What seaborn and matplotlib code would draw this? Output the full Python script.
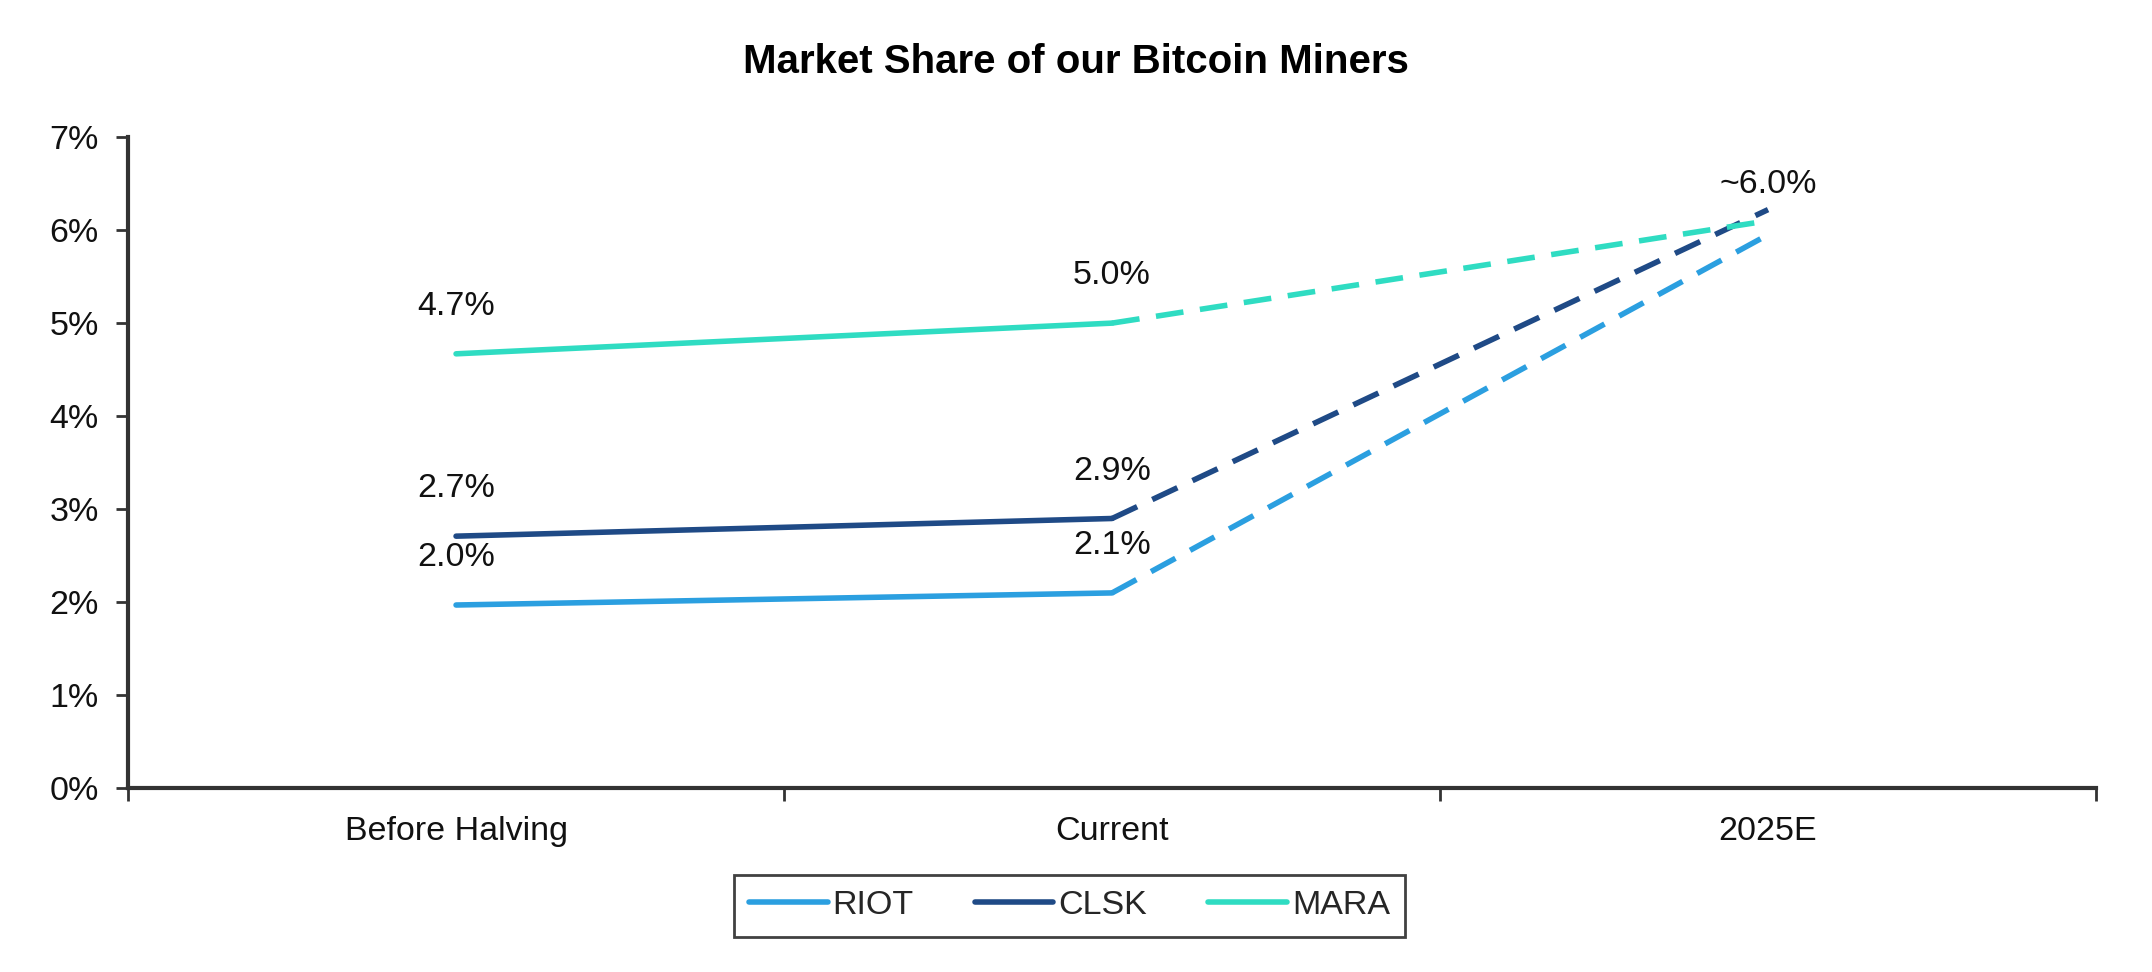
import pandas as pd
import numpy as np
import seaborn as sns
import matplotlib.pyplot as plt
from matplotlib.lines import Line2D

# Chart data
periods = ["Before Halving", "Current", "2025E"]
companies = ["RIOT", "CLSK", "MARA"]
riot = [1.97, 2.1, 5.95]
clsk = [2.71, 2.9, 6.22]
mara = [4.67, 5.0, 6.1]
labels_before = ["2.0%", "2.7%", "4.7%"]
labels_current = ["2.1%", "2.9%", "5.0%"]
label_2025 = "~6.0%"

colors = {"RIOT": "#2b9fe0", "CLSK": "#1f4a86", "MARA": "#2fdcc2"}

# long-form table: solid segment for actual values, dashed for the estimate
rows = []
for name, vals in zip(companies, [riot, clsk, mara]):
    for i in [0, 1]:
        rows.append({"company": name, "x": i, "share": vals[i], "segment": "actual"})
    for i in [1, 2]:
        rows.append({"company": name, "x": i, "share": vals[i], "segment": "forecast"})
df = pd.DataFrame(rows)

sns.set_theme(style="white")
plt.rcParams["font.family"] = ["Liberation Sans", "DejaVu Sans"]

fs = 24.5
fig = plt.figure(figsize=(21.52, 9.72), dpi=100)
ax = fig.add_axes([0.0595, 0.189, 0.9145, 0.67])

sns.lineplot(data=df, x="x", y="share", hue="company", style="segment",
             hue_order=companies, palette=colors,
             dashes={"actual": "", "forecast": (5, 3)},
             linewidth=4, legend=False, ax=ax, estimator=None)

ax.set_xlim(-0.5, 2.5)
ax.set_ylim(0, 7)
ax.set_yticks(range(0, 8))
ax.set_yticklabels([f"{v}%" for v in range(0, 8)])
ax.set_xticks(range(len(periods)))
ax.set_xticklabels(periods)
ax.set_xticks([-0.5, 0.5, 1.5, 2.5], minor=True)
ax.tick_params(axis="x", which="major", length=0, pad=20, labelsize=fs, colors="#111111")
ax.tick_params(axis="x", which="minor", length=9, width=2, direction="out", color="#333333", bottom=True)
ax.tick_params(axis="y", length=9, width=2, direction="out", pad=12, labelsize=fs,
               color="#333333", labelcolor="#111111", left=True)
ax.set_xlabel("")
ax.set_ylabel("")

for side in ["top", "right"]:
    ax.spines[side].set_visible(False)
for side in ["left", "bottom"]:
    ax.spines[side].set_color("#333333")
    ax.spines[side].set_linewidth(3)

# data labels
for lbl, vals in zip(labels_before, [riot, clsk, mara]):
    ax.annotate(lbl, (0, vals[0]), xytext=(0, 34), textcoords="offset points",
                ha="center", va="center", fontsize=fs, color="#111111")
for lbl, vals in zip(labels_current, [riot, clsk, mara]):
    ax.annotate(lbl, (1, vals[1]), xytext=(0, 34), textcoords="offset points",
                ha="center", va="center", fontsize=fs, color="#111111")
ax.annotate(label_2025, (2, max(clsk[2], mara[2], riot[2])), xytext=(0, 18),
            textcoords="offset points", ha="center", va="center", fontsize=fs, color="#111111")

fig.suptitle("Market Share of our Bitcoin Miners", y=0.936, fontsize=29,
             fontweight="bold", color="#000000", va="center")

handles = [Line2D([0], [0], color=colors[c], lw=4) for c in companies]
leg = fig.legend(handles, companies, loc="center", bbox_to_anchor=(0.497, 0.068),
                 ncol=3, fontsize=fs, frameon=True, fancybox=False,
                 handlelength=2.3, handletextpad=0.15, columnspacing=1.8,
                 borderpad=0.45, borderaxespad=0.0)
leg.get_frame().set_edgecolor("#111111")
leg.get_frame().set_linewidth(2)

plt.savefig("out.png", dpi=100)
plt.close()
